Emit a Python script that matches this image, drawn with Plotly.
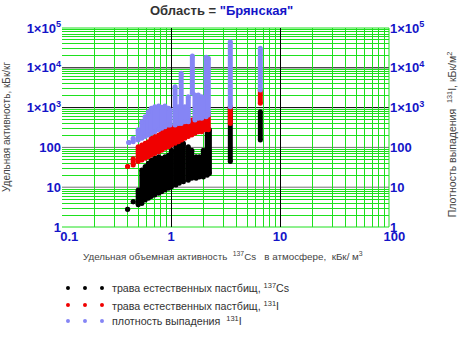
import plotly.graph_objects as go

# ---- data ----
# Cs-137 in pasture grass: columns of points (x, lower y, upper y)
cs_x  = [0.40, 0.45, 0.50, 0.54, 0.58, 0.62, 0.66, 0.71, 0.77, 0.82, 0.88, 0.95, 1.01, 1.11, 1.19, 1.30, 1.44, 1.55, 1.70, 1.82, 1.98, 2.15, 2.25, 3.5, 6.6]
cs_lo = [2.8, 4.3, 3.6, 3.9, 4.8, 5.3, 5.8, 6.4, 7.0, 7.7, 8.5, 9.4, 10.3, 11.4, 12.6, 13.8, 15, 16.7, 16.7, 18, 18, 20, 22, 44, 153]
cs_hi = [2.8, 4.3, 8.5, 27, 33, 40, 48, 53, 58, 53, 58, 64, 85, 227, 127, 127, 104, 85, 58, 58, 85, 330, 276, 1000, 790]

# I-131 in pasture grass
ig_x  = [0.40, 0.45, 0.50, 0.54, 0.58, 0.62, 0.66, 0.71, 0.77, 0.82, 0.88, 0.95, 1.01, 1.09, 1.17, 1.25, 1.34, 1.44, 1.55, 1.66, 1.78, 1.91, 2.05, 2.20, 3.5, 6.6]
ig_lo = [33, 36, 44, 48, 53, 58, 64, 70, 78, 85, 95, 104, 115, 127, 139, 153, 169, 187, 205, 227, 248, 248, 276, 276, 400, 1280]
ig_hi = [33, 52, 104, 115, 127, 139, 169, 187, 205, 248, 276, 301, 330, 365, 400, 400, 443, 490, 490, 538, 538, 590, 652, 718, 1050, 2780]

# I-131 deposition density (right axis)
dep_x  = [0.41, 0.45, 0.50, 0.54, 0.58, 0.62, 0.66, 0.71, 0.77, 0.82, 0.88, 0.95, 0.98, 1.09, 1.17, 1.24, 1.34, 1.44, 1.57, 1.66, 1.78, 1.91, 2.10, 2.20, 3.5, 6.6]
dep_lo = [133, 139, 153, 169, 187, 205, 227, 248, 276, 301, 330, 365, 365, 365, 400, 400, 443, 443, 2290, 490, 538, 538, 590, 652, 1050, 2780]
dep_hi = [133, 169, 276, 443, 590, 790, 960, 1050, 1100, 1015, 1100, 960, 870, 3360, 1050, 7300, 1050, 1880, 19800, 2070, 2070, 1880, 18300, 17300, 45300, 30900]

x_ticks = [0.1, 1, 10, 100]
x_tick_text = ["\u00a0\u00a0\u00a0\u00a00.1", "1", "10", "\u00a0\u00a0\u00a0100"]
y_ticks = [1, 10, 100, 1000, 10000, 100000]
y_tick_text = ["1", "10", "100", "1×10<sup>3</sup>", "1×10<sup>4</sup>", "1×10<sup>5</sup>"]

legend_labels = ["трава естественных пастбищ, <sup>137</sup>Cs",
                 "трава естественных пастбищ, <sup>131</sup>I",
                 "плотность выпадения  <sup>131</sup>I"]

BLACK = "#000000"
RED = "#f00000"
BLUE = "#8585f5"
TICKBLUE = "#1414c8"
GREEN = "#1ee01e"
FONT = "Liberation Sans, Arial, sans-serif"
TXT = "#444444"


def segs(xs, lo, hi):
    sx, sy = [], []
    for a, b, c in zip(xs, lo, hi):
        sx += [a, a, None]
        sy += [b, c, None]
    return sx, sy


fig = go.Figure()
for xs, lo, hi, col, ax in [(cs_x, cs_lo, cs_hi, BLACK, "y"),
                            (ig_x, ig_lo, ig_hi, RED, "y"),
                            (dep_x, dep_lo, dep_hi, BLUE, "y2")]:
    sx, sy = segs(xs, lo, hi)
    fig.add_trace(go.Scatter(x=sx, y=sy, mode="lines+markers", yaxis=ax,
                             line=dict(color=col, width=5),
                             marker=dict(color=col, size=5),
                             showlegend=False, hoverinfo="skip"))

minor_x = [m * 10 ** e for e in range(-1, 2) for m in range(2, 10)]
minor_y = [m * 10 ** e for e in range(0, 5) for m in range(2, 10)]
tickfont = dict(family=FONT, size=13, color=TICKBLUE, weight="bold")

fig.update_layout(
    width=464, height=339,
    margin=dict(l=62, r=75, t=28, b=112),
    paper_bgcolor="white", plot_bgcolor="white",
    showlegend=False,
    xaxis=dict(type="log", range=[-1, 2], tickmode="array", tickvals=x_ticks, ticktext=x_tick_text,
               tickfont=tickfont, ticks="", showgrid=True, gridcolor=BLACK, gridwidth=1,
               zeroline=False, showline=False, automargin=False,
               minor=dict(tickmode="array", tickvals=minor_x, showgrid=True, gridcolor=GREEN, gridwidth=1, ticks="")),
    yaxis=dict(type="log", range=[0, 5], tickmode="array", tickvals=y_ticks, ticktext=y_tick_text,
               tickfont=tickfont, ticks="", showgrid=False,
               zeroline=False, showline=False, automargin=False,
               minor=dict(tickmode="array", tickvals=minor_y, showgrid=True, gridcolor=GREEN, gridwidth=1, ticks="")),
    yaxis2=dict(type="log", range=[0, 5], overlaying="y", side="right", tickmode="array",
                tickvals=y_ticks, ticktext=y_tick_text, tickfont=tickfont, ticks="",
                showgrid=False, zeroline=False, showline=False, automargin=False),
)

# horizontal decade lines (shapes take data values here), green frame lines
shapes = []
for yv, col in [(10, "#707070"), (100, "#707070"), (1000, BLACK), (10000, BLACK)]:
    shapes.append(dict(type="line", xref="paper", x0=0, x1=1, yref="y", y0=yv, y1=yv,
                       line=dict(color=col, width=1), layer="between"))
for yp in [0, 1]:
    shapes.append(dict(type="line", xref="paper", x0=0, x1=1, yref="paper", y0=yp, y1=yp,
                       line=dict(color=GREEN, width=1), layer="between"))
shapes.append(dict(type="line", xref="paper", x0=1, x1=1, yref="paper", y0=0, y1=1,
                   line=dict(color=GREEN, width=1), layer="between"))

# legend: three dots per row + text
row_y = [-0.3065, -0.392, -0.472]
dot_x = [0.0183, 0.0703, 0.1223]
for ry, col in zip(row_y, [BLACK, RED, BLUE]):
    for dx in dot_x:
        shapes.append(dict(type="circle", xref="paper", yref="paper", xsizemode="pixel", ysizemode="pixel",
                           xanchor=dx, yanchor=ry, x0=-2, x1=2, y0=-2, y1=2,
                           fillcolor=col, line=dict(color=col, width=0)))
fig.update_layout(shapes=shapes)

ann = [
    dict(text='<b>Область = <span style="color:#1414c8">"Брянская"</span></b>', x=0.489, y=1.09,
         xref="paper", yref="paper", showarrow=False, xanchor="center", yanchor="middle",
         font=dict(family=FONT, size=13, color="#333333")),
    dict(text="Удельная объемная активность  <sup>137</sup>Cs   в атмосфере,  кБк/ м<sup>3</sup>",
         x=0.492, y=-0.146, xref="paper", yref="paper", showarrow=False, xanchor="center", yanchor="middle",
         font=dict(family=FONT, size=9.8, color=TXT)),
    dict(text="Удельная активность, кБк/кг", x=-0.168, y=0.503, xref="paper", yref="paper",
         showarrow=False, textangle=-90, xanchor="center", yanchor="middle",
         font=dict(family=FONT, size=10, color=TXT)),
    dict(text="Плотность выпадения  <sup>131</sup>I, кБк/м<sup>2</sup>", x=1.19, y=0.462, xref="paper", yref="paper",
         showarrow=False, textangle=-90, xanchor="center", yanchor="middle",
         font=dict(family=FONT, size=10.5, color=TXT)),
]
for ry, lab in zip(row_y, legend_labels):
    ann.append(dict(text=lab, x=0.1468, y=ry, xref="paper", yref="paper", showarrow=False,
                    xanchor="left", yanchor="middle", font=dict(family=FONT, size=10.7, color="#333333")))
fig.update_layout(annotations=ann)

fig.write_html("out.html", config={"displayModeBar": False},
               post_script="document.body.style.margin='0px';")
